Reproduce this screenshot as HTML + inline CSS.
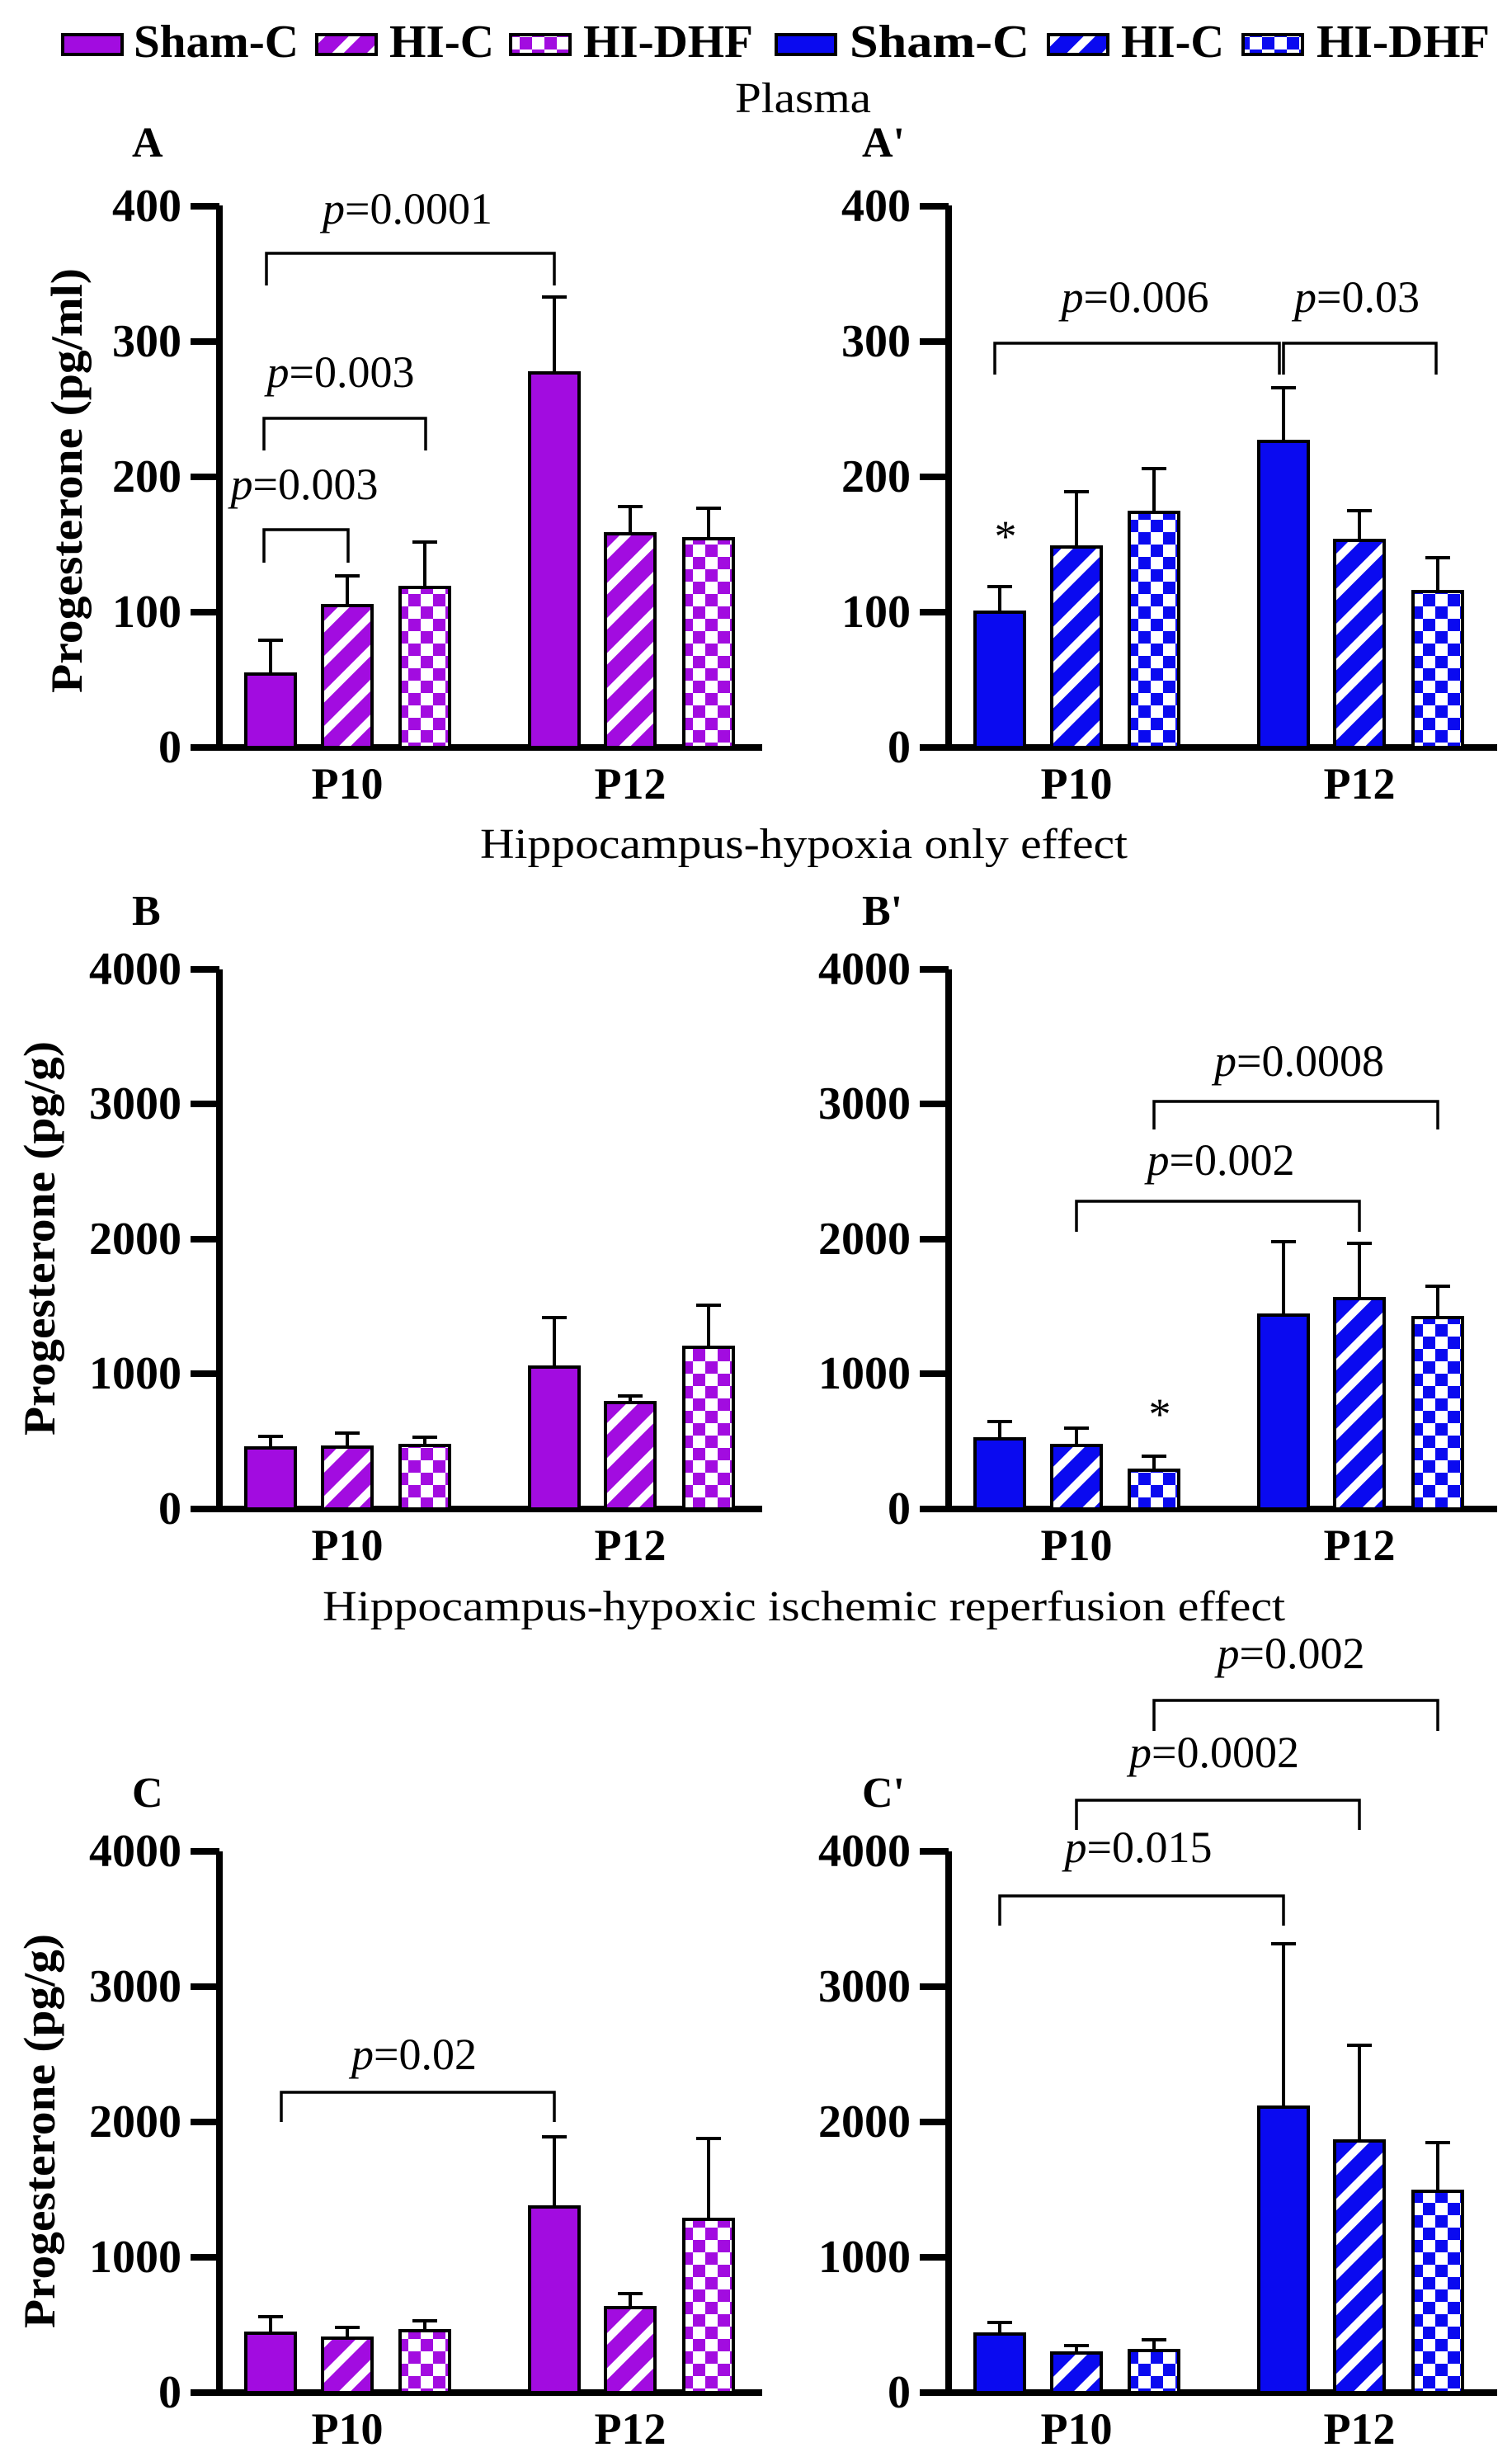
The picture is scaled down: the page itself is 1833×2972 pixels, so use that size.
<!DOCTYPE html>
<html><head><meta charset="utf-8"><style>
html,body{margin:0;padding:0;background:#fff}
svg{display:block}
.b{font-family:"Liberation Serif",serif;font-weight:bold}
.r{font-family:"Liberation Serif",serif}
</style></head><body>
<svg width="1833" height="2972" viewBox="0 0 1833 2972" xmlns="http://www.w3.org/2000/svg">
<defs>
<pattern id="sp" patternUnits="userSpaceOnUse" width="30" height="30" patternTransform="rotate(-45)"><rect width="30" height="30" fill="#A20CE0"/><rect y="0" width="30" height="10" fill="#fff"/></pattern>
<pattern id="sb" patternUnits="userSpaceOnUse" width="30" height="30" patternTransform="rotate(-45)"><rect width="30" height="30" fill="#0A0AF0"/><rect y="0" width="30" height="10" fill="#fff"/></pattern>
<pattern id="cp" patternUnits="userSpaceOnUse" width="30" height="30"><rect width="30" height="30" fill="#A20CE0"/><rect width="15" height="15" fill="#fff"/><rect x="15" y="15" width="15" height="15" fill="#fff"/></pattern>
<pattern id="cb" patternUnits="userSpaceOnUse" width="30" height="30"><rect width="30" height="30" fill="#0A0AF0"/><rect width="15" height="15" fill="#fff"/><rect x="15" y="15" width="15" height="15" fill="#fff"/></pattern>
</defs>

<!-- Legend -->
<g stroke="#000" stroke-width="4">
<rect x="76" y="42" width="72" height="24" fill="#A20CE0"/>
<rect x="384" y="42" width="72" height="24" fill="url(#sp)"/>
<rect x="619" y="42" width="72" height="24" fill="url(#cp)"/>
<rect x="941" y="42" width="72" height="24" fill="#0A0AF0"/>
<rect x="1271" y="42" width="72" height="24" fill="url(#sb)"/>
<rect x="1507" y="42" width="72" height="24" fill="url(#cb)"/>
</g>
<g class="b" font-size="56">
<text x="162" y="69" textLength="200" lengthAdjust="spacingAndGlyphs">Sham-C</text>
<text x="472" y="69" textLength="127" lengthAdjust="spacingAndGlyphs">HI-C</text>
<text x="707" y="69" textLength="206" lengthAdjust="spacingAndGlyphs">HI-DHF</text>
<text x="1030" y="69" textLength="218" lengthAdjust="spacingAndGlyphs">Sham-C</text>
<text x="1359" y="69" textLength="125" lengthAdjust="spacingAndGlyphs">HI-C</text>
<text x="1596" y="69" textLength="210" lengthAdjust="spacingAndGlyphs">HI-DHF</text>
</g>

<!-- Section titles -->
<g class="r" font-size="52">
<text x="891" y="136" textLength="165" lengthAdjust="spacingAndGlyphs">Plasma</text>
<text x="582" y="1040" textLength="785" lengthAdjust="spacingAndGlyphs">Hippocampus-hypoxia only effect</text>
<text x="391" y="1964" textLength="1167" lengthAdjust="spacingAndGlyphs">Hippocampus-hypoxic ischemic reperfusion effect</text>
</g>

<!-- Panel letters -->
<g class="b" font-size="52">
<text x="160" y="190">A</text>
<text x="1045" y="190">A'</text>
<text x="160" y="1121">B</text>
<text x="1045" y="1121">B'</text>
<text x="160" y="2190">C</text>
<text x="1045" y="2190">C'</text>
</g>

<!-- Y titles -->
<g class="b" font-size="54">
<text transform="translate(99,840) rotate(-90)" textLength="515" lengthAdjust="spacingAndGlyphs">Progesterone (pg/ml)</text>
<text transform="translate(66,1740) rotate(-90)" textLength="478" lengthAdjust="spacingAndGlyphs">Progesterone (pg/g)</text>
<text transform="translate(66,2822) rotate(-90)" textLength="478" lengthAdjust="spacingAndGlyphs">Progesterone (pg/g)</text>
</g>

<!-- Axes -->
<g stroke="#000" stroke-width="8" fill="none">
<path d="M266 249 V906 M231 906 H924 M231 250 H266 M231 414 H266 M231 578 H266 M231 742 H266"/>
<path d="M1150 249 V906 M1115 906 H1815 M1115 250 H1150 M1115 414 H1150 M1115 578 H1150 M1115 742 H1150"/>
<path d="M266 1175 V1829 M231 1829 H924 M231 1175 H266 M231 1338 H266 M231 1502 H266 M231 1665 H266"/>
<path d="M1150 1175 V1829 M1115 1829 H1815 M1115 1175 H1150 M1115 1338 H1150 M1115 1502 H1150 M1115 1665 H1150"/>
<path d="M266 2244 V2900 M231 2900 H924 M231 2244 H266 M231 2408 H266 M231 2572 H266 M231 2736 H266"/>
<path d="M1150 2244 V2900 M1115 2900 H1815 M1115 2244 H1150 M1115 2408 H1150 M1115 2572 H1150 M1115 2736 H1150"/>
</g>

<!-- Tick labels -->
<g class="b" font-size="56" text-anchor="end">
<text x="220" y="268">400</text><text x="220" y="432">300</text><text x="220" y="596">200</text><text x="220" y="760">100</text><text x="220" y="924">0</text>
<text x="1104" y="268">400</text><text x="1104" y="432">300</text><text x="1104" y="596">200</text><text x="1104" y="760">100</text><text x="1104" y="924">0</text>
<text x="220" y="1193">4000</text><text x="220" y="1356">3000</text><text x="220" y="1520">2000</text><text x="220" y="1683">1000</text><text x="220" y="1847">0</text>
<text x="1104" y="1193">4000</text><text x="1104" y="1356">3000</text><text x="1104" y="1520">2000</text><text x="1104" y="1683">1000</text><text x="1104" y="1847">0</text>
<text x="220" y="2262">4000</text><text x="220" y="2426">3000</text><text x="220" y="2590">2000</text><text x="220" y="2754">1000</text><text x="220" y="2918">0</text>
<text x="1104" y="2262">4000</text><text x="1104" y="2426">3000</text><text x="1104" y="2590">2000</text><text x="1104" y="2754">1000</text><text x="1104" y="2918">0</text>
</g>

<!-- Category labels -->
<g class="b" font-size="54" text-anchor="middle">
<text x="421" y="968">P10</text><text x="764" y="968">P12</text>
<text x="1305" y="968">P10</text><text x="1648" y="968">P12</text>
<text x="421" y="1891">P10</text><text x="764" y="1891">P12</text>
<text x="1305" y="1891">P10</text><text x="1648" y="1891">P12</text>
<text x="421" y="2962">P10</text><text x="764" y="2962">P12</text>
<text x="1305" y="2962">P10</text><text x="1648" y="2962">P12</text>
</g>

<!-- Error bars -->
<g stroke="#000" stroke-width="4" fill="none">
<path d="M328 817 V776 M313 776 H343 M421 734 V698 M406 698 H436 M515 712 V657 M500 657 H530 M672 452 V360 M657 360 H687 M764 647 V614 M749 614 H779 M859 653 V616 M844 616 H874"/>
<path d="M1212 742 V711 M1197 711 H1227 M1305 663 V596 M1290 596 H1320 M1399 621 V568 M1384 568 H1414 M1556 535 V470 M1541 470 H1571 M1648 655 V619 M1633 619 H1663 M1743 717 V676 M1728 676 H1758"/>
<path d="M328 1755 V1741 M313 1741 H343 M421 1754 V1737 M406 1737 H436 M515 1752 V1742 M500 1742 H530 M672 1657 V1597 M657 1597 H687 M764 1700 V1692 M749 1692 H779 M859 1633 V1582 M844 1582 H874"/>
<path d="M1212 1744 V1723 M1197 1723 H1227 M1305 1752 V1731 M1290 1731 H1320 M1399 1782 V1765 M1384 1765 H1414 M1556 1594 V1505 M1541 1505 H1571 M1648 1574 V1507 M1633 1507 H1663 M1743 1597 V1559 M1728 1559 H1758"/>
<path d="M328 2828 V2808 M313 2808 H343 M421 2834 V2821 M406 2821 H436 M515 2825 V2813 M500 2813 H530 M672 2675 V2590 M657 2590 H687 M764 2797 V2780 M749 2780 H779 M859 2690 V2592 M844 2592 H874"/>
<path d="M1212 2829 V2815 M1197 2815 H1227 M1305 2852 V2843 M1290 2843 H1320 M1399 2849 V2836 M1384 2836 H1414 M1556 2554 V2356 M1541 2356 H1571 M1648 2595 V2479 M1633 2479 H1663 M1743 2656 V2597 M1728 2597 H1758"/>
</g>

<!-- Bars -->
<g stroke="#000" stroke-width="4">
<rect x="298" y="817" width="60" height="89" fill="#A20CE0"/>
<rect x="391" y="734" width="60" height="172" fill="url(#sp)"/>
<rect x="485" y="712" width="60" height="194" fill="url(#cp)"/>
<rect x="642" y="452" width="60" height="454" fill="#A20CE0"/>
<rect x="734" y="647" width="60" height="259" fill="url(#sp)"/>
<rect x="829" y="653" width="60" height="253" fill="url(#cp)"/>
<rect x="1182" y="742" width="60" height="164" fill="#0A0AF0"/>
<rect x="1275" y="663" width="60" height="243" fill="url(#sb)"/>
<rect x="1369" y="621" width="60" height="285" fill="url(#cb)"/>
<rect x="1526" y="535" width="60" height="371" fill="#0A0AF0"/>
<rect x="1618" y="655" width="60" height="251" fill="url(#sb)"/>
<rect x="1713" y="717" width="60" height="189" fill="url(#cb)"/>
<rect x="298" y="1755" width="60" height="74" fill="#A20CE0"/>
<rect x="391" y="1754" width="60" height="75" fill="url(#sp)"/>
<rect x="485" y="1752" width="60" height="77" fill="url(#cp)"/>
<rect x="642" y="1657" width="60" height="172" fill="#A20CE0"/>
<rect x="734" y="1700" width="60" height="129" fill="url(#sp)"/>
<rect x="829" y="1633" width="60" height="196" fill="url(#cp)"/>
<rect x="1182" y="1744" width="60" height="85" fill="#0A0AF0"/>
<rect x="1275" y="1752" width="60" height="77" fill="url(#sb)"/>
<rect x="1369" y="1782" width="60" height="47" fill="url(#cb)"/>
<rect x="1526" y="1594" width="60" height="235" fill="#0A0AF0"/>
<rect x="1618" y="1574" width="60" height="255" fill="url(#sb)"/>
<rect x="1713" y="1597" width="60" height="232" fill="url(#cb)"/>
<rect x="298" y="2828" width="60" height="72" fill="#A20CE0"/>
<rect x="391" y="2834" width="60" height="66" fill="url(#sp)"/>
<rect x="485" y="2825" width="60" height="75" fill="url(#cp)"/>
<rect x="642" y="2675" width="60" height="225" fill="#A20CE0"/>
<rect x="734" y="2797" width="60" height="103" fill="url(#sp)"/>
<rect x="829" y="2690" width="60" height="210" fill="url(#cp)"/>
<rect x="1182" y="2829" width="60" height="71" fill="#0A0AF0"/>
<rect x="1275" y="2852" width="60" height="48" fill="url(#sb)"/>
<rect x="1369" y="2849" width="60" height="51" fill="url(#cb)"/>
<rect x="1526" y="2554" width="60" height="346" fill="#0A0AF0"/>
<rect x="1618" y="2595" width="60" height="305" fill="url(#sb)"/>
<rect x="1713" y="2656" width="60" height="244" fill="url(#cb)"/>
</g>

<!-- Significance brackets -->
<g stroke="#000" stroke-width="3.5" fill="none">
<path d="M323 346 V307 H672 V346"/>
<path d="M320 546 V507 H516 V546"/>
<path d="M320 682 V642 H422 V682"/>
<path d="M1206 454 V416 H1551 V454"/>
<path d="M1556 454 V416 H1741 V454"/>
<path d="M1399 1369 V1335 H1743 V1369"/>
<path d="M1305 1493 V1456 H1648 V1493"/>
<path d="M341 2572 V2536 H672 V2572"/>
<path d="M1399 2098 V2061 H1743 V2098"/>
<path d="M1305 2218 V2182 H1648 V2218"/>
<path d="M1212 2334 V2298 H1556 V2334"/>
</g>
<g class="r" font-size="54" text-anchor="middle">
<text x="494" y="271"><tspan font-style="italic">p</tspan>=0.0001</text>
<text x="413" y="469"><tspan font-style="italic">p</tspan>=0.003</text>
<text x="369" y="605"><tspan font-style="italic">p</tspan>=0.003</text>
<text x="1376" y="378"><tspan font-style="italic">p</tspan>=0.006</text>
<text x="1645" y="378"><tspan font-style="italic">p</tspan>=0.03</text>
<text x="1575" y="1304"><tspan font-style="italic">p</tspan>=0.0008</text>
<text x="1480" y="1424"><tspan font-style="italic">p</tspan>=0.002</text>
<text x="502" y="2508"><tspan font-style="italic">p</tspan>=0.02</text>
<text x="1565" y="2022"><tspan font-style="italic">p</tspan>=0.002</text>
<text x="1472" y="2142"><tspan font-style="italic">p</tspan>=0.0002</text>
<text x="1380" y="2257"><tspan font-style="italic">p</tspan>=0.015</text>
</g>
<g class="r" font-size="54" text-anchor="middle">
<text x="1219" y="668">*</text>
<text x="1406" y="1732">*</text>
</g>
</svg>
</body></html>
